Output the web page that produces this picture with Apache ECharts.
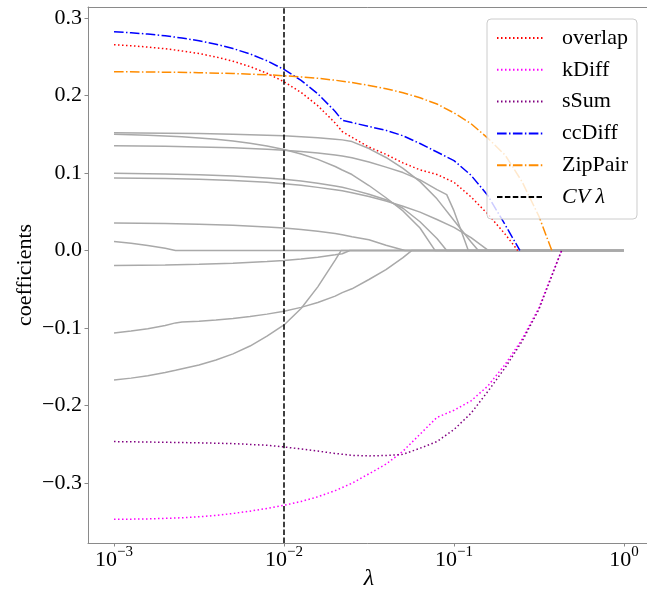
<!DOCTYPE html>
<html>
<head>
<meta charset="utf-8">
<script src="https://cdn.jsdelivr.net/npm/echarts@6/dist/echarts.min.js"></script>
<style>
  html, body { margin: 0; padding: 0; background: #fff; }
  #chart { width: 647px; height: 597px; }
</style>
</head>
<body>
<div id="chart"></div>
<script>
// Lasso coefficient paths: [lambda, coefficient] pairs for each feature.
const overlap = [[0.001,0.2656],[0.00126,0.2642],[0.00158,0.2625],[0.002,0.2603],[0.00251,0.2575],[0.00316,0.2541],[0.00398,0.2497],[0.00501,0.2442],[0.00631,0.2373],[0.00794,0.2287],[0.01,0.2177],[0.0126,0.2039],[0.0158,0.1868],[0.02,0.1645],[0.022,0.1535],[0.0251,0.146],[0.0316,0.1335],[0.0398,0.124],[0.0501,0.113],[0.0631,0.104],[0.0794,0.098],[0.1,0.088],[0.126,0.069],[0.158,0.047],[0.2,0.021],[0.237,0]];
const kDiff = [[0.001,-0.3471],[0.00158,-0.3465],[0.002,-0.3458],[0.00251,-0.345],[0.00316,-0.3438],[0.00398,-0.342],[0.00501,-0.3395],[0.00631,-0.3365],[0.00794,-0.333],[0.01,-0.329],[0.0126,-0.324],[0.0158,-0.318],[0.02,-0.31],[0.0251,-0.3005],[0.0316,-0.2883],[0.0398,-0.2758],[0.0501,-0.2591],[0.0631,-0.2372],[0.0794,-0.2155],[0.1,-0.2063],[0.126,-0.1941],[0.158,-0.1751],[0.2,-0.1471],[0.251,-0.115],[0.316,-0.074],[0.398,-0.018],[0.43,0]];
const sSum = [[0.001,-0.2467],[0.002,-0.2476],[0.00316,-0.2483],[0.00501,-0.2493],[0.00794,-0.2515],[0.01,-0.2536],[0.0126,-0.2563],[0.0158,-0.259],[0.02,-0.262],[0.0251,-0.2645],[0.0316,-0.2652],[0.0398,-0.2646],[0.0501,-0.2632],[0.0631,-0.2553],[0.0794,-0.2467],[0.1,-0.2311],[0.126,-0.2101],[0.158,-0.1821],[0.2,-0.1513],[0.251,-0.1175],[0.316,-0.0759],[0.398,-0.019],[0.43,0]];
const ccDiff = [[0.001,0.2824],[0.00126,0.281],[0.00158,0.2792],[0.002,0.277],[0.00251,0.2742],[0.00316,0.2707],[0.00398,0.2662],[0.00501,0.2606],[0.00631,0.2536],[0.00794,0.2448],[0.01,0.2336],[0.0126,0.2195],[0.0158,0.2022],[0.02,0.1794],[0.022,0.168],[0.0251,0.165],[0.0316,0.16],[0.0398,0.155],[0.0501,0.148],[0.0631,0.138],[0.0794,0.127],[0.1,0.116],[0.126,0.097],[0.158,0.071],[0.2,0.033],[0.244,0]];
const ZipPair = [[0.001,0.2307],[0.002,0.2301],[0.00316,0.2294],[0.00501,0.2283],[0.00794,0.2267],[0.01,0.2255],[0.0126,0.224],[0.0158,0.2222],[0.02,0.2197],[0.0251,0.2167],[0.0316,0.213],[0.0398,0.2088],[0.0501,0.2035],[0.0631,0.197],[0.0794,0.189],[0.1,0.1775],[0.126,0.1636],[0.158,0.145],[0.2,0.123],[0.251,0.089],[0.316,0.044],[0.376,0]];

// Remaining (unlabelled) features
const otherA = [[0.001,0.1518],[0.002,0.1514],[0.00316,0.1508],[0.00501,0.1501],[0.00794,0.1488],[0.01,0.1479],[0.0126,0.1468],[0.0158,0.1454],[0.02,0.1436],[0.022,0.1427],[0.0251,0.1405],[0.0316,0.1315],[0.0398,0.12],[0.0501,0.106],[0.0631,0.0888],[0.0794,0.0666],[0.1,0.0386],[0.126,0.011],[0.139,0],[1,0]];
const otherB = [[0.001,0.15],[0.00126,0.1494],[0.00158,0.1487],[0.002,0.1478],[0.00251,0.1467],[0.00316,0.1452],[0.00398,0.1434],[0.00501,0.1412],[0.00631,0.1383],[0.00794,0.1347],[0.01,0.1302],[0.0126,0.1245],[0.0158,0.1175],[0.02,0.1083],[0.022,0.1038],[0.0251,0.098],[0.0316,0.0838],[0.0398,0.068],[0.0501,0.051],[0.0631,0.029],[0.0773,0],[1,0]];
const otherC = [[0.001,0.135],[0.002,0.1344],[0.00316,0.1336],[0.00501,0.1325],[0.00794,0.1307],[0.01,0.1294],[0.0126,0.1278],[0.0158,0.1258],[0.02,0.1232],[0.022,0.122],[0.0251,0.1195],[0.0316,0.1142],[0.0398,0.1075],[0.0501,0.1005],[0.0631,0.091],[0.0794,0.0785],[0.0906,0.072],[0.1,0.051],[0.1214,0],[1,0]];
const otherD = [[0.001,0.0996],[0.002,0.0988],[0.00316,0.0977],[0.00501,0.0961],[0.00794,0.0935],[0.01,0.0918],[0.0126,0.0895],[0.0158,0.0867],[0.02,0.0831],[0.022,0.0815],[0.0251,0.0785],[0.0316,0.0725],[0.0398,0.0655],[0.0501,0.0545],[0.0631,0.037],[0.0794,0.0155],[0.0906,0],[1,0]];
const otherE = [[0.001,0.0936],[0.002,0.0928],[0.00316,0.0918],[0.00501,0.0903],[0.00794,0.0879],[0.01,0.0862],[0.0126,0.084],[0.0158,0.0814],[0.02,0.0784],[0.022,0.0769],[0.0251,0.0745],[0.0316,0.0695],[0.0398,0.0637],[0.0501,0.057],[0.0631,0.0495],[0.0794,0.04],[0.1,0.0298],[0.126,0.0165],[0.159,0],[1,0]];
const otherF = [[0.001,0.0354],[0.002,0.0347],[0.00316,0.0339],[0.00501,0.0325],[0.00794,0.0304],[0.01,0.0289],[0.0126,0.027],[0.0158,0.0248],[0.02,0.0219],[0.022,0.0202],[0.0251,0.0176],[0.0316,0.0138],[0.0398,0.0068],[0.0515,0],[1,0]];
const otherG = [[0.001,0.0116],[0.00126,0.0093],[0.00158,0.0064],[0.002,0.0027],[0.0023,0],[1,0]];
const otherH = [[0.001,-0.0194],[0.002,-0.0187],[0.00316,-0.0179],[0.00501,-0.0165],[0.00794,-0.0144],[0.01,-0.0129],[0.0126,-0.011],[0.0158,-0.0087],[0.02,-0.0057],[0.022,-0.0042],[0.0244,0],[1,0]];
const otherI = [[0.001,-0.1065],[0.00126,-0.104],[0.00158,-0.101],[0.002,-0.097],[0.0023,-0.0935],[0.00251,-0.0925],[0.00316,-0.0913],[0.00398,-0.0897],[0.00501,-0.0877],[0.00631,-0.0852],[0.00794,-0.0822],[0.01,-0.0784],[0.0126,-0.0735],[0.0158,-0.0672],[0.02,-0.059],[0.022,-0.0545],[0.0251,-0.0495],[0.0316,-0.0375],[0.0398,-0.0248],[0.0501,-0.0093],[0.0566,0],[1,0]];
const otherJ = [[0.001,-0.1673],[0.00126,-0.1648],[0.00158,-0.1616],[0.002,-0.1575],[0.0023,-0.1546],[0.00316,-0.1479],[0.00398,-0.1415],[0.00501,-0.1335],[0.00631,-0.1234],[0.00794,-0.1106],[0.01,-0.0962],[0.0126,-0.075],[0.0158,-0.047],[0.02,-0.0125],[0.0217,0],[1,0]];

// Cross-validated lambda
const cvLambda = 0.01;

// Axis settings
const xMin = 0.000703, xMax = 1.4223;
const yMin = -0.3776, yMax = 0.3142;
const yTicks = [-0.3, -0.2, -0.1, 0.0, 0.1, 0.2, 0.3];

const FONT = '"Liberation Serif", "DejaVu Serif", serif';
const AXIS_GRAY = '#8a8a8a';

const DOT = [1.5, 2.5];
const DASHDOT = [9.6, 2.4, 1.5, 2.4];
const DASH = [5.5, 2.4];

const others = [otherA, otherB, otherC, otherD, otherE, otherF, otherG, otherH, otherI, otherJ];
const named = [
  { name: 'overlap', data: overlap, color: '#ff0000', type: DOT },
  { name: 'kDiff',   data: kDiff,   color: '#ff00ff', type: DOT },
  { name: 'sSum',    data: sSum,    color: '#800080', type: DOT },
  { name: 'ccDiff',  data: ccDiff,  color: '#0000ff', type: DASHDOT },
  { name: 'ZipPair', data: ZipPair, color: '#ff8c00', type: DASHDOT }
];

const series = [];
others.forEach((d, i) => {
  series.push({
    type: 'line', name: 'feature' + (i + 1), data: d,
    symbol: 'none', z: 2, silent: true,
    lineStyle: { color: '#a9a9a9', width: 1.5 },
    itemStyle: { color: '#a9a9a9' }
  });
});
named.forEach(s => {
  series.push({
    type: 'line', name: s.name, data: s.data,
    symbol: 'none', z: 3, silent: true,
    lineStyle: { color: s.color, width: 1.5, type: s.type },
    itemStyle: { color: s.color }
  });
});
series.push({
  type: 'line', name: 'CVλ', data: [],
  symbol: 'none', z: 4,
  lineStyle: { color: '#000', width: 1.5, type: DASH },
  itemStyle: { color: '#000' },
  markLine: {
    silent: true, symbol: 'none', animation: false,
    label: { show: false },
    lineStyle: { color: '#000', width: 1.5, type: DASH },
    data: [{ xAxis: cvLambda }]
  }
});

const chart = echarts.init(document.getElementById('chart'), null, { renderer: 'canvas' });
chart.setOption({
  animation: false,
  backgroundColor: '#fff',
  grid: {
    left: 88, top: 7, width: 562, height: 536,
    outerBoundsMode: 'none', containLabel: false, show: false
  },
  xAxis: [{
    type: 'log', logBase: 10, min: xMin, max: xMax, position: 'bottom',
    name: 'λ', nameLocation: 'middle', nameGap: 24, nameMoveOverlap: false,
    nameTextStyle: { fontFamily: FONT, fontSize: 24, fontStyle: 'italic', color: '#000' },
    axisLine: { show: true, onZero: false, lineStyle: { color: AXIS_GRAY, width: 1 } },
    axisTick: { show: true, length: 3.5, lineStyle: { color: AXIS_GRAY } },
    minorTick: { show: false },
    splitLine: { show: false },
    axisLabel: {
      showMinLabel: false, showMaxLabel: false, margin: 2,
      formatter: v => {
        const e = Math.round(Math.log10(v));
        return '{b|10}{s|' + (e < 0 ? '−' + (-e) : String(e)) + '}';
      },
      rich: {
        b: { fontFamily: FONT, fontSize: 22, color: '#000', lineHeight: 26, verticalAlign: 'bottom' },
        s: { fontFamily: FONT, fontSize: 15, color: '#000', lineHeight: 26, verticalAlign: 'top' }
      }
    }
  }, {
    // top spine of the plot frame
    type: 'log', logBase: 10, min: xMin, max: xMax, position: 'top',
    axisLine: { show: true, onZero: false, lineStyle: { color: AXIS_GRAY, width: 1 } },
    axisTick: { show: false }, axisLabel: { show: false }, splitLine: { show: false }
  }],
  yAxis: {
    type: 'value', min: yMin, max: yMax,
    name: 'coefficients', nameLocation: 'middle', nameGap: 52, nameMoveOverlap: false,
    nameTextStyle: { fontFamily: FONT, fontSize: 22, color: '#000' },
    axisLine: { show: true, onZero: false, lineStyle: { color: AXIS_GRAY, width: 1 } },
    axisTick: { show: true, length: 3.5, lineStyle: { color: AXIS_GRAY }, customValues: yTicks },
    splitLine: { show: false },
    axisLabel: {
      customValues: yTicks, margin: 6,
      fontFamily: FONT, fontSize: 22, color: '#000',
      formatter: v => (v < 0 ? '−' : '') + Math.abs(v).toFixed(1)
    }
  },
  legend: {
    data: ['overlap', 'kDiff', 'sSum', 'ccDiff', 'ZipPair', 'CVλ'],
    orient: 'vertical', left: 487, top: 19,
    padding: [8, 9, 11, 9], itemGap: 9.8, itemWidth: 46, itemHeight: 12,
    backgroundColor: 'rgba(255,255,255,0.8)', borderColor: '#cccccc', borderWidth: 1, borderRadius: 4,
    selectedMode: false,
    itemStyle: { opacity: 0 },
    textStyle: {
      fontFamily: FONT, fontSize: 22, color: '#000', lineHeight: 22, padding: [0, 0, 0, 14],
      rich: { i: { fontFamily: FONT, fontSize: 22, fontStyle: 'italic', color: '#000', lineHeight: 22 } }
    },
    formatter: name => name === 'CVλ' ? '{i|CV λ}' : name
  },
  series: series
});
</script>
</body>
</html>
